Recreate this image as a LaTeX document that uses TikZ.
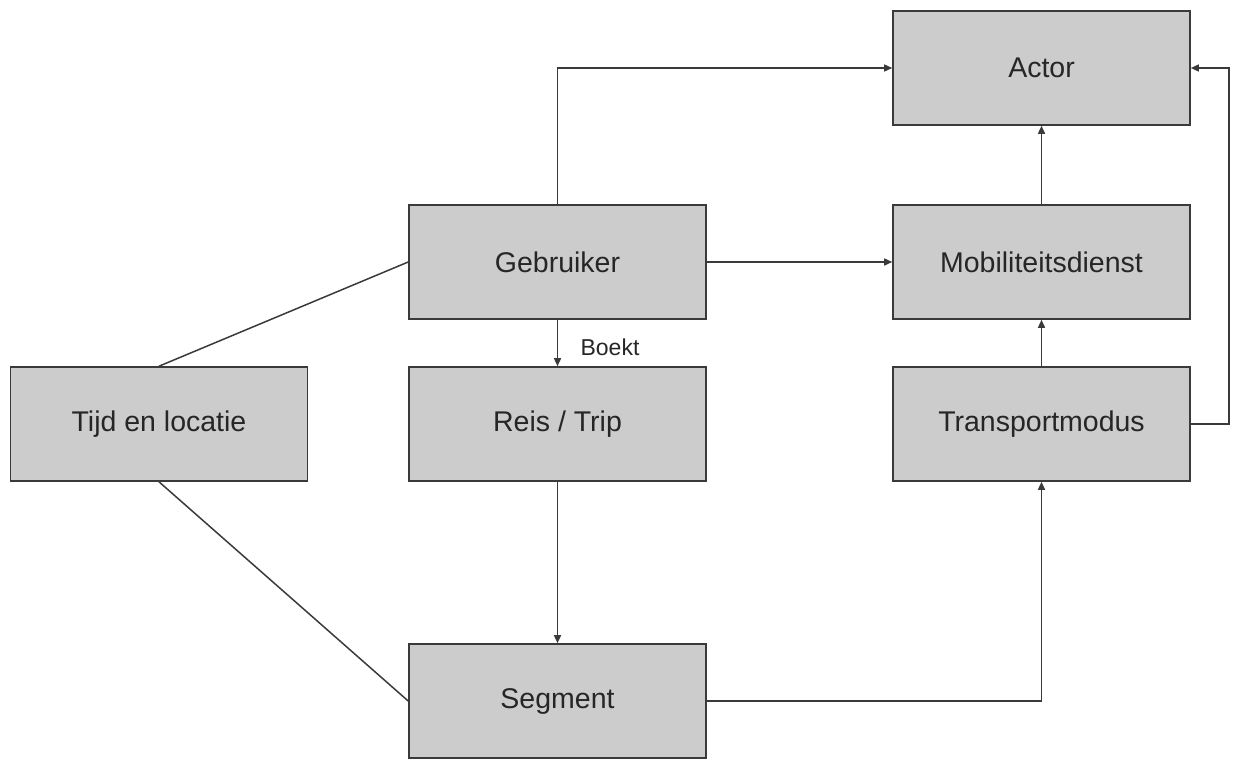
\documentclass[tikz,border=0pt]{standalone}
\usepackage{fontspec}
\setmainfont{Liberation Sans}
\usetikzlibrary{arrows.meta}
\definecolor{boxgray}{HTML}{CCCCCC}
\definecolor{linegray}{HTML}{3A3A3A}

\begin{document}
\begin{tikzpicture}[x = 1pt, y = -1pt,
    box/.style = {draw = linegray, line width = 1.6pt, fill = boxgray,
                  minimum width = 297pt, minimum height = 114pt, inner sep = 0pt,
                  font = \fontsize{28.5}{32}\selectfont, text = black!85},
    link/.style = {draw = linegray, line width = 1.5pt},
    arr/.style = {link, -{Triangle[length = 8pt, width = 7pt]}}]
    \useasboundingbox (0, 0) rectangle (1233, 760);

    \node[box] (actor) at (1041.5, 68) {Actor};
    \node[box] (gebruiker) at (557.5, 262) {Gebruiker};
    \node[box] (mobiliteit) at (1041.5, 262) {Mobiliteitsdienst};
    \node[box] (tijd) at (159, 424) {Tijd en locatie};
    \node[box] (reis) at (557.5, 424) {Reis / Trip};
    \node[box] (transport) at (1041.5, 424) {Transportmodus};
    \node[box] (segment) at (557.5, 701) {Segment};

    \draw[arr] (gebruiker.north) |- (actor.west);
    \draw[arr] (gebruiker.east) -- (mobiliteit.west);
    \draw[arr] (gebruiker.south) -- (reis.north)
       node[pos = 0.6, right = 19pt, font = \fontsize{23}{26}\selectfont, text = black!85] (boekt) {Boekt};
    \draw[arr] (reis.south) -- (segment.north);
    \draw[arr] (mobiliteit.north) -- (actor.south);
    \draw[arr] (transport.north) -- (mobiliteit.south);
    \draw[arr] (transport.east) -- ++(38, 0) |- (actor.east);
    \draw[arr] (segment.east) -| (transport.south);
    \draw[link] (gebruiker.west) -- (tijd.north);
    \draw[link] (tijd.south) -- (segment.west);

\end{tikzpicture}
\end{document}
